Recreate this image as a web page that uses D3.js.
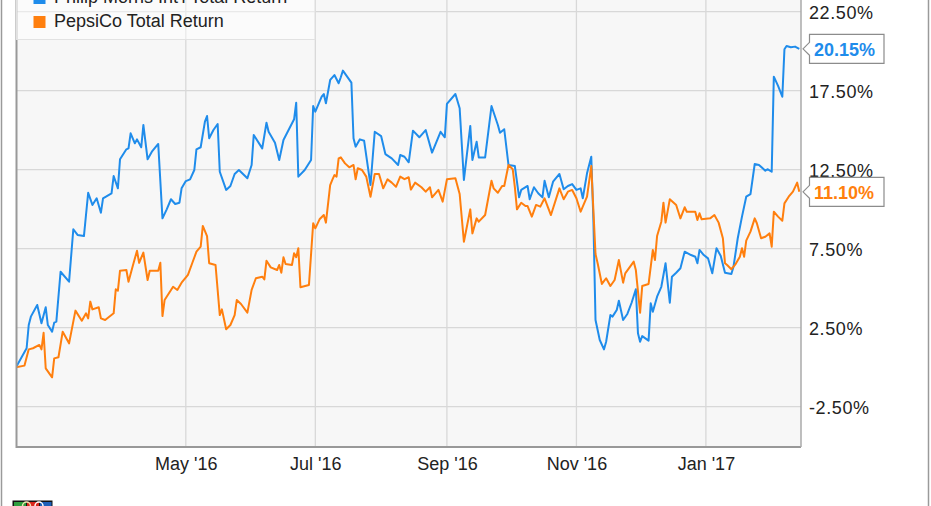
<!DOCTYPE html>
<html><head><meta charset="utf-8">
<script src="https://cdn.jsdelivr.net/npm/d3@7"></script>
<style>
html,body{margin:0;padding:0;background:#fff;}
svg{display:block;font-family:"Liberation Sans",Arial,sans-serif;}
</style></head>
<body><svg id="c" width="931" height="506"></svg>
<script>
const seriesNames = ["Philip Morris Int'l Total Return", "PepsiCo Total Return"];
const seriesColors = ["#1f8ceb", "#ff7f0e"];
const yTicks = [-2.5, 2.5, 7.5, 12.5, 17.5, 22.5];
const xTickDates = ["2016-05-01", "2016-07-01", "2016-09-01", "2016-11-01", "2017-01-01"];

const pmDates = ["2016-02-11","2016-02-16","2016-02-17","2016-02-18","2016-02-21","2016-02-23","2016-02-25","2016-02-26","2016-02-28","2016-02-29",
"2016-03-01","2016-03-03","2016-03-07","2016-03-09","2016-03-11","2016-03-14","2016-03-16","2016-03-18","2016-03-20","2016-03-22",
"2016-03-23","2016-03-27","2016-03-28","2016-03-30","2016-03-31","2016-04-03","2016-04-04","2016-04-05","2016-04-07","2016-04-08",
"2016-04-10","2016-04-11","2016-04-13","2016-04-15","2016-04-18","2016-04-20","2016-04-22","2016-04-24","2016-04-26","2016-04-28",
"2016-04-29","2016-05-01","2016-05-03","2016-05-05","2016-05-06","2016-05-08","2016-05-10","2016-05-11","2016-05-12","2016-05-14",
"2016-05-16","2016-05-17","2016-05-20","2016-05-22","2016-05-24","2016-05-26","2016-05-30","2016-06-01","2016-06-02","2016-06-06",
"2016-06-08","2016-06-09","2016-06-12","2016-06-14","2016-06-16","2016-06-21","2016-06-22","2016-06-23","2016-06-26","2016-06-29",
"2016-06-30","2016-07-01","2016-07-04","2016-07-05","2016-07-06","2016-07-08","2016-07-10","2016-07-12","2016-07-13","2016-07-14",
"2016-07-18","2016-07-19","2016-07-20","2016-07-22","2016-07-24","2016-07-27","2016-07-29","2016-08-01","2016-08-03","2016-08-06",
"2016-08-09","2016-08-10","2016-08-12","2016-08-14","2016-08-16","2016-08-19","2016-08-22","2016-08-25","2016-08-29","2016-08-31",
"2016-09-01","2016-09-05","2016-09-07","2016-09-09","2016-09-12","2016-09-13","2016-09-15","2016-09-16","2016-09-19","2016-09-22",
"2016-09-25","2016-09-26","2016-09-28","2016-09-30","2016-10-03","2016-10-05","2016-10-06","2016-10-09","2016-10-10","2016-10-12",
"2016-10-14","2016-10-16","2016-10-17","2016-10-19","2016-10-21","2016-10-24","2016-10-26","2016-10-28","2016-10-30","2016-11-01",
"2016-11-03","2016-11-04","2016-11-06","2016-11-08","2016-11-09","2016-11-10","2016-11-12","2016-11-14","2016-11-15","2016-11-17",
"2016-11-18","2016-11-20","2016-11-21","2016-11-23","2016-11-25","2016-11-27","2016-11-29","2016-11-30","2016-12-01","2016-12-02",
"2016-12-05","2016-12-06","2016-12-07","2016-12-09","2016-12-11","2016-12-13","2016-12-15","2016-12-16","2016-12-18","2016-12-20",
"2016-12-22","2016-12-25","2016-12-27","2016-12-28","2016-12-29","2016-12-31","2017-01-02","2017-01-04","2017-01-06","2017-01-08",
"2017-01-10","2017-01-13","2017-01-14","2017-01-16","2017-01-18","2017-01-20","2017-01-22","2017-01-24","2017-01-26","2017-01-29",
"2017-01-30","2017-02-01","2017-02-02","2017-02-04","2017-02-06","2017-02-07","2017-02-08","2017-02-10","2017-02-12","2017-02-14"];
const pmValues = [0.0,1.2,2.67,3.2,3.94,2.78,3.79,2.67,2.25,2.82,
2.88,6.04,5.41,8.73,8.37,8.3,11.04,10.27,10.69,9.78,
10.69,11.0,12.1,11.32,13.16,13.79,13.85,14.8,14.17,14.42,
13.92,15.33,13.16,13.64,14.13,9.42,9.99,10.63,10.33,10.41,
11.32,11.78,11.89,12.48,13.79,13.92,15.54,15.9,14.49,15.01,
15.39,12.37,11.22,11.47,12.23,12.48,11.96,12.8,14.7,13.85,
15.47,14.9,14.21,13.11,14.38,15.69,16.74,12.06,12.48,13.11,
16.53,16.17,17.12,17.29,16.7,18.18,18.49,17.97,18.35,18.77,
18.01,14.49,13.96,14.42,14.33,11.53,14.9,14.63,13.49,13.22,
12.8,13.43,13.32,12.97,14.97,14.55,15.01,13.58,14.9,14.55,
16.66,17.29,16.39,11.85,15.27,13.11,14.27,13.28,13.28,16.53,
15.33,14.84,15.06,12.8,12.73,10.75,11.22,11.47,10.63,11.39,
11.01,10.75,11.8,10.75,11.74,12.23,11.26,11.47,11.59,11.22,
11.32,10.69,12.27,13.32,9.32,2.99,1.72,1.13,1.61,3.3,
3.2,3.62,4.21,2.99,3.37,4.08,4.93,2.15,1.61,1.97,
1.68,4.04,3.51,4.46,5.09,6.58,4.08,5.73,5.98,6.26,
7.31,7.1,6.99,6.58,7.42,7.1,6.89,5.94,7.53,7.04,
5.98,5.9,6.36,8.16,9.53,10.79,10.96,12.86,12.8,12.44,
12.53,12.37,18.39,17.8,17.12,20.12,20.33,20.25,20.29,20.15];

const pepDates = ["2016-02-11","2016-02-15","2016-02-17","2016-02-19","2016-02-22","2016-02-23","2016-02-24","2016-02-25","2016-02-28","2016-02-29",
"2016-03-02","2016-03-04","2016-03-07","2016-03-10","2016-03-13","2016-03-15","2016-03-16","2016-03-17","2016-03-18","2016-03-21",
"2016-03-22","2016-03-24","2016-03-28","2016-03-29","2016-03-30","2016-03-31","2016-04-03","2016-04-04","2016-04-06","2016-04-08",
"2016-04-09","2016-04-11","2016-04-13","2016-04-14","2016-04-18","2016-04-19","2016-04-20","2016-04-21","2016-04-25","2016-04-27",
"2016-04-29","2016-05-02","2016-05-04","2016-05-06","2016-05-08","2016-05-09","2016-05-11","2016-05-12","2016-05-15","2016-05-17",
"2016-05-18","2016-05-20","2016-05-22","2016-05-24","2016-05-25","2016-05-27","2016-05-30","2016-06-01","2016-06-03","2016-06-06",
"2016-06-07","2016-06-08","2016-06-10","2016-06-13","2016-06-14","2016-06-15","2016-06-16","2016-06-17","2016-06-20","2016-06-21",
"2016-06-22","2016-06-23","2016-06-24","2016-06-28","2016-06-30","2016-07-01","2016-07-03","2016-07-05","2016-07-06","2016-07-08",
"2016-07-09","2016-07-10","2016-07-11","2016-07-12","2016-07-13","2016-07-15","2016-07-17","2016-07-19","2016-07-20","2016-07-21",
"2016-07-23","2016-07-25","2016-07-27","2016-07-29","2016-07-31","2016-08-02","2016-08-04","2016-08-06","2016-08-08","2016-08-10",
"2016-08-12","2016-08-14","2016-08-15","2016-08-17","2016-08-20","2016-08-22","2016-08-24","2016-08-25","2016-08-28","2016-08-30",
"2016-09-01","2016-09-05","2016-09-07","2016-09-09","2016-09-12","2016-09-13","2016-09-15","2016-09-16","2016-09-19","2016-09-22",
"2016-09-23","2016-09-25","2016-09-27","2016-09-28","2016-09-30","2016-10-02","2016-10-03","2016-10-04","2016-10-06","2016-10-08",
"2016-10-09","2016-10-11","2016-10-13","2016-10-15","2016-10-17","2016-10-20","2016-10-24","2016-10-26","2016-10-28","2016-10-30",
"2016-11-01","2016-11-03","2016-11-06","2016-11-08","2016-11-10","2016-11-11","2016-11-13","2016-11-15","2016-11-17","2016-11-19",
"2016-11-21","2016-11-23","2016-11-24","2016-11-28","2016-11-29","2016-12-01","2016-12-02","2016-12-05","2016-12-07","2016-12-08",
"2016-12-09","2016-12-11","2016-12-12","2016-12-13","2016-12-15","2016-12-18","2016-12-19","2016-12-20","2016-12-22","2016-12-23",
"2016-12-27","2016-12-28","2016-12-29","2016-12-30","2017-01-03","2017-01-05","2017-01-07","2017-01-09","2017-01-10","2017-01-11",
"2017-01-13","2017-01-15","2017-01-17","2017-01-18","2017-01-19","2017-01-20","2017-01-22","2017-01-24","2017-01-25","2017-01-27",
"2017-01-29","2017-01-31","2017-02-01","2017-02-02","2017-02-04","2017-02-06","2017-02-07","2017-02-09","2017-02-11","2017-02-13",
"2017-02-14"];
const pepValues = [0.0,0.1,1.13,1.2,1.41,1.13,2.18,-0.07,-0.64,0.56,
0.63,2.25,1.51,3.58,2.94,3.41,3.09,4.15,3.66,3.79,
3.09,2.99,3.41,4.93,4.84,6.11,6.15,5.41,6.41,7.37,
6.61,7.25,5.52,6.11,6.11,6.61,3.24,4.25,5.09,4.89,
5.35,5.84,6.58,7.31,7.63,8.94,8.3,6.58,6.47,3.3,
3.66,2.4,2.67,3.3,4.25,4.0,3.45,4.89,5.63,5.73,
5.56,6.74,6.32,6.15,6.47,5.98,6.96,6.53,6.47,7.21,
6.96,7.53,5.06,5.2,9.11,8.79,9.36,9.63,9.15,11.53,
11.85,12.16,12.06,13.22,13.28,12.9,12.65,12.8,11.89,12.59,
12.48,12.06,10.79,12.23,12.23,11.32,11.89,11.68,11.42,12.06,
11.9,12.02,11.24,11.68,11.39,11.11,11.39,10.75,11.22,10.48,
11.89,11.96,10.96,7.94,9.99,8.47,9.42,9.21,9.63,11.8,
11.32,11.04,11.47,11.47,12.8,12.53,11.39,9.99,10.41,10.2,
10.2,9.53,10.27,10.16,10.69,9.63,11.32,10.63,11.11,11.22,
10.69,9.84,10.79,12.73,7.16,6.58,5.27,5.63,5.14,5.52,
6.78,5.35,5.94,6.68,6.15,3.45,5.14,5.27,7.42,6.78,
8.3,9.21,10.41,9.15,10.63,10.27,9.84,9.42,10.12,9.84,
9.84,9.32,9.74,9.36,9.42,9.63,9.15,8.16,6.58,6.47,
6.2,6.53,6.99,7.53,6.99,8.01,8.58,9.42,9.11,8.16,
8.26,8.47,7.63,9.84,9.53,9.27,10.37,10.79,11.11,11.68,
11.1];

const parse = d3.timeParse("%Y-%m-%d");
const series = [
  {name: seriesNames[0], color: seriesColors[0], pts: pmDates.map((d,i)=>({date: parse(d), v: pmValues[i]}))},
  {name: seriesNames[1], color: seriesColors[1], pts: pepDates.map((d,i)=>({date: parse(d), v: pepValues[i]}))}
];

const svg = d3.select("#c");
const plot = {left: 16.5, right: 801, top: -20, bottom: 447};

const x = d3.scaleTime().domain([parse("2016-02-11"), parse("2017-02-14")]).range([16, 799.3]);
const y = d3.scaleLinear().domain([-2.5, 22.5]).range([406.7, 11.7]);

// outer frame
svg.append("line").attr("x1",1.5).attr("x2",1.5).attr("y1",0).attr("y2",506).attr("stroke","#9a9a9a").attr("stroke-width",1.5);
svg.append("line").attr("x1",928.5).attr("x2",928.5).attr("y1",0).attr("y2",506).attr("stroke","#9a9a9a").attr("stroke-width",1.5);

// plot background
svg.append("rect").attr("x",plot.left).attr("y",plot.top).attr("width",plot.right-plot.left).attr("height",plot.bottom-plot.top).attr("fill","#f7f7f7");

// gridlines
svg.append("g").selectAll("line").data(yTicks).join("line")
  .attr("x1",plot.left).attr("x2",plot.right).attr("y1",d=>y(d)).attr("y2",d=>y(d))
  .attr("stroke","#d8d8d8").attr("stroke-width",1.3);
svg.append("g").selectAll("line").data(xTickDates.map(parse)).join("line")
  .attr("x1",d=>x(d)).attr("x2",d=>x(d)).attr("y1",plot.top).attr("y2",plot.bottom)
  .attr("stroke","#d8d8d8").attr("stroke-width",1.3);

// clip
svg.append("clipPath").attr("id","clip").append("rect")
  .attr("x",plot.left).attr("y",plot.top).attr("width",plot.right-plot.left).attr("height",plot.bottom-plot.top);

const line = d3.line().x(d=>x(d.date)).y(d=>y(d.v));
svg.append("g").attr("clip-path","url(#clip)").selectAll("path").data(series).join("path")
  .attr("d",d=>line(d.pts)).attr("fill","none").attr("stroke",d=>d.color)
  .attr("stroke-width",2).attr("stroke-linejoin","round");

// borders
svg.append("line").attr("x1",plot.left).attr("x2",plot.left).attr("y1",plot.top).attr("y2",plot.bottom+1).attr("stroke","#999").attr("stroke-width",2);
svg.append("line").attr("x1",plot.left).attr("x2",plot.right).attr("y1",plot.bottom).attr("y2",plot.bottom).attr("stroke","#999").attr("stroke-width",2);
svg.append("line").attr("x1",plot.right).attr("x2",plot.right).attr("y1",plot.top).attr("y2",plot.bottom).attr("stroke","#aaa").attr("stroke-width",1.5);

// axes
const yAxis = svg.append("g").attr("transform",`translate(${plot.right},0)`)
  .call(d3.axisRight(y).tickValues(yTicks).tickFormat(d=>d.toFixed(2)+"%").tickSize(0).tickPadding(8));
yAxis.select(".domain").remove();
yAxis.selectAll("text").attr("font-size",18).attr("fill","#222").attr("letter-spacing","0.6px")
  .attr("font-family","'Liberation Sans', Arial, sans-serif").attr("dy","0.36em");

const xAxis = svg.append("g").attr("transform",`translate(0,${plot.bottom})`)
  .call(d3.axisBottom(x).tickValues(xTickDates.map(parse)).tickFormat(d3.timeFormat("%b '%y")).tickSize(0).tickPadding(10));
xAxis.select(".domain").remove();
xAxis.selectAll("text").attr("font-size",18).attr("fill","#222")
  .attr("font-family","'Liberation Sans', Arial, sans-serif");

// legend
const lg = svg.append("g");
lg.append("rect").attr("x",plot.left).attr("y",-30).attr("width",315-plot.left).attr("height",69.5)
  .attr("fill","#fff").attr("fill-opacity",0.45).attr("stroke","#e2e2e2").attr("stroke-width",1);
series.forEach((s,i)=>{
  const by = 27 - (1-i)*24;
  lg.append("rect").attr("x",33.5).attr("y",by-11).attr("width",12).attr("height",12).attr("fill",s.color);
  lg.append("text").attr("x",54).attr("y",by).attr("font-size",18).attr("fill","#222").text(s.name);
});

// last-value callouts
series.forEach(s=>{
  const last = s.pts[s.pts.length-1];
  const ty = y(last.v);
  const tx = 803, bx = 809.5, bw = 74.5, bh = 29;
  const p = `M${tx},${ty} L${bx},${ty-6.5} L${bx},${ty-bh/2} L${bx+bw},${ty-bh/2} L${bx+bw},${ty+bh/2} L${bx},${ty+bh/2} L${bx},${ty+6.5} Z`;
  svg.append("path").attr("d",p).attr("fill","#fff").attr("stroke","#8c8c8c").attr("stroke-width",1.2);
  svg.append("text").attr("x",bx+4.5).attr("y",ty+7).attr("font-size",18).attr("font-weight","bold")
    .attr("fill",s.color).text(last.v.toFixed(2)+"%");
});

// small logo at bottom-left (cut off)
const logo = svg.append("g");
logo.append("rect").attr("x",12.5).attr("y",500.5).attr("width",40).attr("height",10).attr("fill","#111");
logo.append("rect").attr("x",14).attr("y",502).attr("width",12).attr("height",8).attr("fill","#2e9e3e");
logo.append("rect").attr("x",27).attr("y",502).attr("width",12).attr("height",8).attr("fill","#d9261c");
logo.append("rect").attr("x",40).attr("y",502).attr("width",11.5).attr("height",8).attr("fill","#1d5fb8");
logo.append("circle").attr("cx",26.5).attr("cy",506).attr("r",4).attr("fill","none").attr("stroke","#f1e4b0").attr("stroke-width",1.5);
logo.append("circle").attr("cx",39).attr("cy",506).attr("r",4).attr("fill","none").attr("stroke","#fff").attr("stroke-width",1.5);
</script></body></html>
